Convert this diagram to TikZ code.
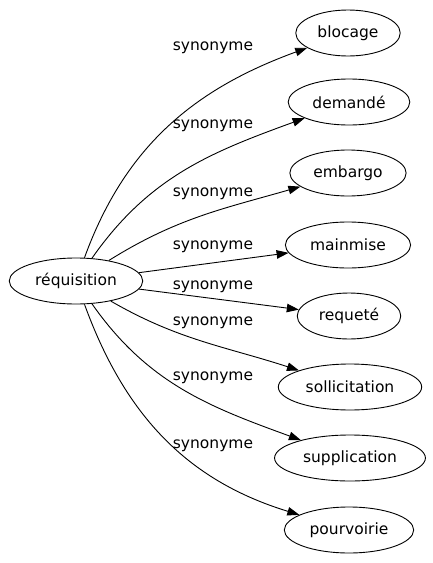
\documentclass[tikz,border=0pt]{standalone}
\usepackage{fontspec}
\setmainfont{DejaVu Sans}
\usetikzlibrary{arrows.meta,shapes.geometric}
\tikzset{
  word/.style={ellipse, draw, line width=0.9pt, minimum height=46pt, inner xsep=6.4pt,
               font=\fontsize{15.5}{18}\selectfont},
  arr/.style={-{Triangle[length=12pt,width=8.5pt]}, line width=0.9pt},
  lab/.style={font=\fontsize{15.5}{18}\selectfont, inner sep=0pt},
}
\begin{document}
\begin{tikzpicture}[x=1pt,y=1pt]
\useasboundingbox (0,0) rectangle (432,-563);
\node[word] (req) at (76,-281) {réquisition};
\node[word] (blocage) at (348,-33) {blocage};
\node[word] (demande) at (349,-102) {demandé};
\node[word] (embargo) at (348,-173) {embargo};
\node[word] (mainmise) at (348,-245) {mainmise};
\node[word] (requete) at (349,-316) {requeté};
\node[word] (sollic) at (350,-387) {sollicitation};
\node[word] (suppl) at (350,-458) {supplication};
\node[word] (pourv) at (349,-530) {pourvoirie};
\node[lab] (l1) at (213,-48) {synonyme};
\node[lab] (l2) at (213,-126) {synonyme};
\node[lab] (l3) at (213,-194) {synonyme};
\node[lab] (l4) at (213,-247) {synonyme};
\node[lab] (l5) at (213,-287) {synonyme};
\node[lab] (l6) at (213,-323) {synonyme};
\node[lab] (l7) at (213,-378) {synonyme};
\node[lab] (l8) at (213,-446) {synonyme};
\draw[arr] (req) to[out=70, in=200] (blocage);
\draw[arr] (req) to[out=55, in=200] (demande);
\draw[arr] (req) to[out=32, in=196] (embargo);
\draw[arr] (req) -- (mainmise);
\draw[arr] (req) -- (requete);
\draw[arr] (req) to[out=-30, in=162] (sollic);
\draw[arr] (req) to[out=-55, in=160] (suppl);
\draw[arr] (req) to[out=-70, in=163] (pourv);
\end{tikzpicture}
\end{document}
